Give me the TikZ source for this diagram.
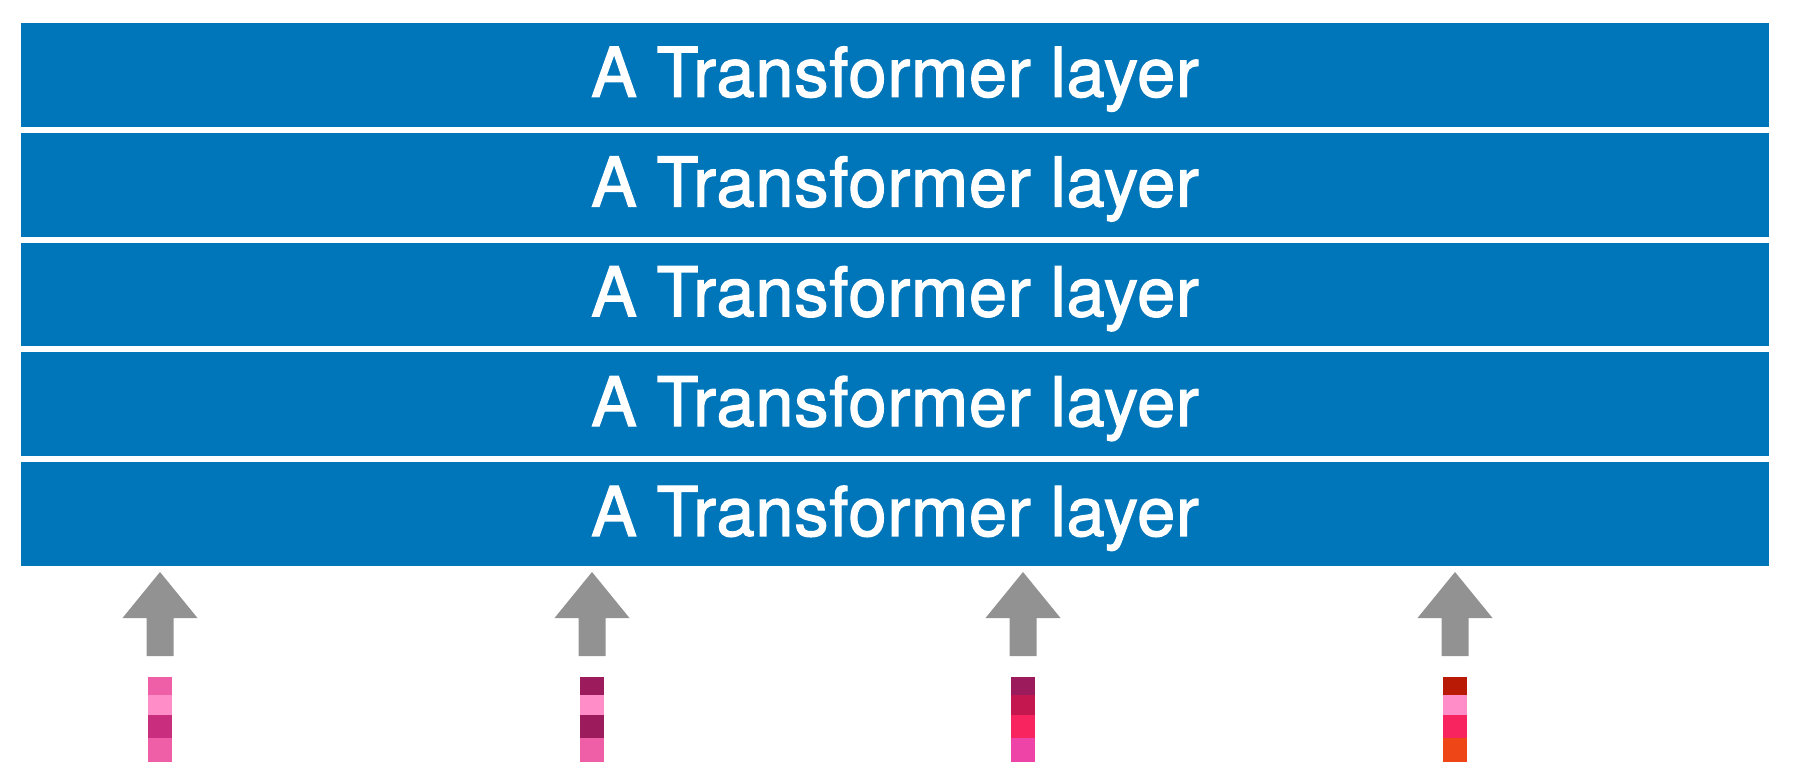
\documentclass[tikz,border=0pt]{standalone}
\usepackage{fontspec}
\setmainfont{TeX Gyre Heros}[FakeBold=1.8,LetterSpace=1.2]
\definecolor{barblue}{HTML}{0076BA}
\definecolor{arrgray}{HTML}{929292}
\definecolor{tpink}{HTML}{EE5FA7}
\definecolor{tlight}{HTML}{FF8DC7}
\definecolor{tmag}{HTML}{C92D7D}
\definecolor{tdark}{HTML}{9B1B5C}
\definecolor{tcrim}{HTML}{C4174F}
\definecolor{tred}{HTML}{F7245F}
\definecolor{thot}{HTML}{EE44A8}
\definecolor{tbrick}{HTML}{B81A05}
\definecolor{torange}{HTML}{EF4618}
\tikzset{
  layerbar/.style={fill=barblue, draw=none, minimum width=1748pt, minimum height=103.8pt,
    inner sep=0pt, text=white, font=\fontsize{68.5}{80}\selectfont,
    text height=48.4pt, text depth=4.8pt},
  uparrow/.style={fill=arrgray, draw=none}
}
\begin{document}
\begin{tikzpicture}[x=1pt,y=-1pt]
\useasboundingbox (0,0) rectangle (1793,770);
\foreach \i in {1,...,5}{
  \node[layerbar] (bar\i) at (895, {23+51.9+(\i-1)*109.8}) {A Transformer layer};
}
% token columns
\newcommand{\tokcol}[6]{%
  \coordinate (tok#1) at (#2,677);
  \fill[#3] ([xshift=-12pt]tok#1) rectangle ++(24,18);
  \fill[#4] ([xshift=-12pt,yshift=-18pt]tok#1) rectangle ++(24,20);
  \fill[#5] ([xshift=-12pt,yshift=-38pt]tok#1) rectangle ++(24,23);
  \fill[#6] ([xshift=-12pt,yshift=-61pt]tok#1) rectangle ++(24,24);
  \coordinate (tip#1) at (#2,572);
  \fill[uparrow] (tip#1) -- ++(37.5,46) -- ++(-24,0) -- ++(0,38) -- ++(-27,0) -- ++(0,-38) -- ++(-24,0) -- cycle;
}
\tokcol{1}{160}{tpink}{tlight}{tmag}{tpink}
\tokcol{2}{592}{tdark}{tlight}{tdark}{tpink}
\tokcol{3}{1023}{tdark}{tcrim}{tred}{thot}
\tokcol{4}{1455}{tbrick}{tlight}{tred}{torange}
\end{tikzpicture}
\end{document}
